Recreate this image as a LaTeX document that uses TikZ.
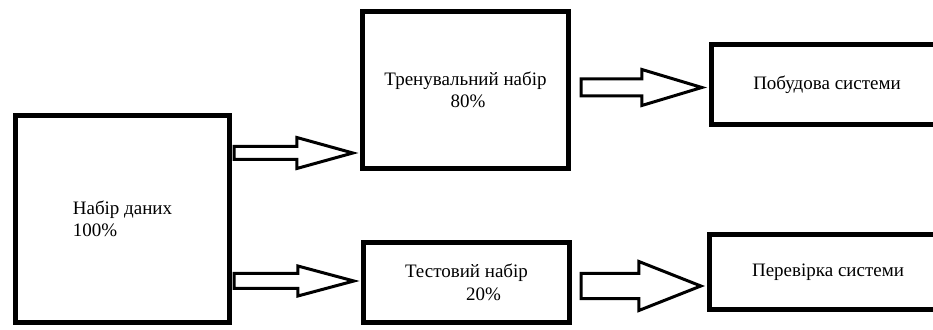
\documentclass[tikz,border=0pt]{standalone}
\usepackage{fontspec}
\setmainfont{Liberation Serif}
\usetikzlibrary{calc}

\tikzset{
  box/.style={draw=black, line width=4.8pt, rectangle, inner sep=0pt,
              font=\fontsize{19}{22.5}\selectfont, align=center},
  blockline/.style={draw=black, line width=3pt, line join=miter, fill=white}
}

% hollow block arrow: start, tip, shaft half-width, head half-width, head length
\newcommand{\blockarrow}[5]{%
  \draw[blockline]
    ($(#1)+(0,#3)$) -- ($(#2)+(-#5,#3)$) -- ($(#2)+(-#5,#4)$) -- (#2)
    -- ($(#2)+(-#5,-#4)$) -- ($(#2)+(-#5,-#3)$) -- ($(#1)+(0,-#3)$) -- cycle;}

\begin{document}
\begin{tikzpicture}[x=1pt, y=1pt]
  \useasboundingbox (0,0) rectangle (933,329);
  \clip (0,0) rectangle (933,329);
  \fill[white] (0,0) rectangle (933,329);

  % blocks
  \node[box, minimum width=214.5pt, minimum height=207.5pt, align=left]
    (data) at (122.5,110) {Набір даних\\100\%};
  \node[box, minimum width=206.5pt, minimum height=157.5pt]
    (train) at (465.5,239) {Тренувальний набір\\\hspace*{5pt}80\%};
  \node[box, minimum width=231.5pt, minimum height=80pt]
    (build) at (827,244.5) {Побудова системи};
  \node[box, minimum width=206.5pt, minimum height=80.5pt]
    (test) at (466.5,46.5) {Тестовий набір\\\hspace*{34pt}20\%};
  \node[box, minimum width=237.5pt, minimum height=75.5pt]
    (check) at (828,57) {Перевірка системи};

  % arrow end points
  \path (data.east)  ++(2,66)   coordinate (s1);
  \path (train.west |- s1) ++(-7,0) coordinate (t1);
  \path (data.east)  ++(2,-62)  coordinate (s2);
  \path (test.west |- s2)  ++(-7,0) coordinate (t2);
  \path (train.east) ++(10,2.5) coordinate (s3);
  \path (build.west |- s3) ++(-7,0) coordinate (t3);
  \path (test.east)  ++(9,-3.5) coordinate (s4);
  \path (check.west |- s4) ++(-6,0) coordinate (t4);

  % block arrows
  \blockarrow{s1}{t1}{6.5}{15.5}{56}
  \blockarrow{s2}{t2}{7.5}{15}{56}
  \blockarrow{s3}{t3}{8.5}{18}{60}
  \blockarrow{s4}{t4}{12.5}{24.5}{62}
\end{tikzpicture}
\end{document}
